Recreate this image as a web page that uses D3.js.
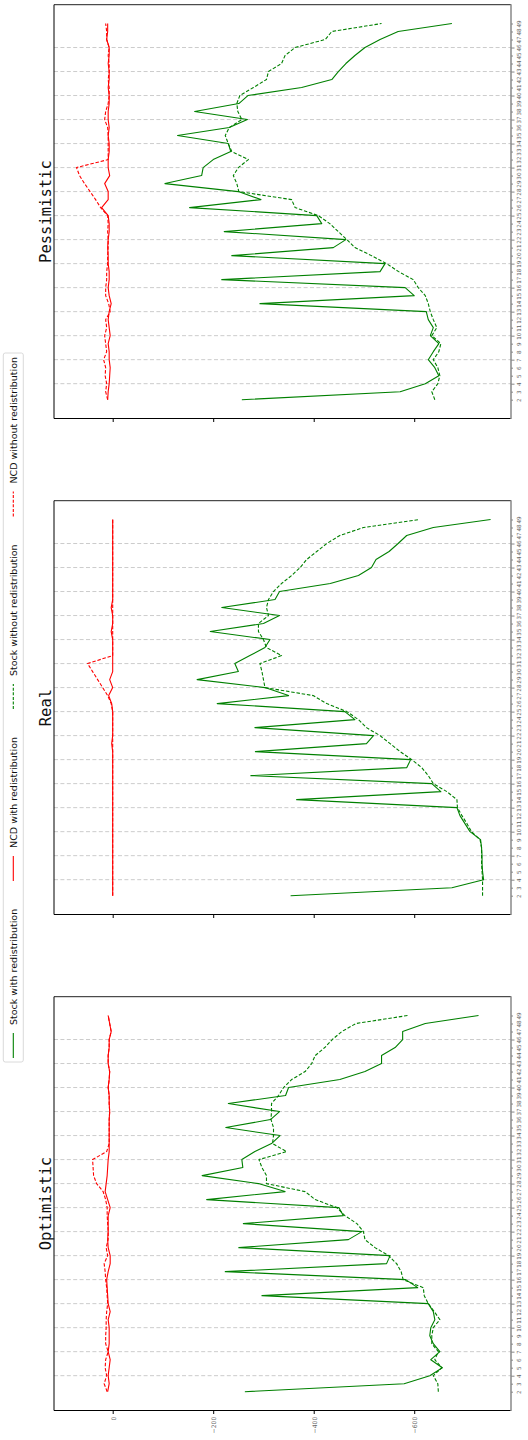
<!DOCTYPE html>
<html><head><meta charset="utf-8">
<script src="https://cdn.jsdelivr.net/npm/d3@7"></script>
<style>body{margin:0;background:#fff}svg{display:block}</style>
</head><body>
<svg id="c" width="528" height="1440"></svg>
<script>
// ---------- DATA ----------
const days = d3.range(2, 50);                 // time steps 2..49
const gridDays = d3.range(4, 47, 3);          // major ticks / gridlines
const valueTicks = [0, -200, -400, -600];
const scenarios = ["Pessimistic", "Real", "Optimistic"];
const seriesNames = ["Stock with redistribution", "NCD with redistribution",
                     "Stock without redistribution", "NCD without redistribution"];

const optStockWith = [-263,-580,-631,-656,-633,-651,-638,-631,-633,-641,-638,-628,-297,-607,-583,-224,-545,-552,-251,-469,-496,-260,-459,-450,-187,-343,-290,-178,-259,-257,-283,-316,-333,-225,-314,-332,-230,-344,-350,-452,-502,-535,-535,-562,-577,-577,-622,-728];
const optStockWithout = [-648,-647,-638,-655,-641,-648,-635,-635,-638,-651,-640,-628,-620,-618,-578,-574,-565,-549,-522,-502,-499,-486,-462,-446,-403,-383,-306,-306,-297,-291,-346,-318,-320,-320,-315,-316,-316,-330,-340,-356,-383,-396,-403,-422,-437,-456,-484,-587];
const optNcdWith = [10,7,9,7,5,9,7,7,7,9,5,9,10,11,12,9,5,5,9,10,9,9,9,5,10,15,13,11,10,9,7,7,7,7,7,6,7,7,9,7,6,9,9,7,7,3,6,9];
const optNcdWithout = [11,17,12,15,14,9,14,14,13,13,12,10,11,12,14,15,17,10,13,9,9,10,11,11,14,19,32,38,39,40,12,7,7,7,7,6,7,7,9,7,6,9,9,7,7,3,6,9];

const realStockWith = [-354,-675,-738,-736,-735,-735,-734,-732,-711,-701,-691,-685,-366,-653,-635,-275,-585,-593,-284,-505,-519,-283,-482,-462,-208,-350,-303,-168,-250,-243,-273,-303,-313,-194,-300,-332,-217,-323,-332,-433,-489,-515,-524,-550,-568,-585,-638,-752];
const realStockWithout = [-736,-736,-736,-735,-734,-734,-734,-731,-714,-705,-695,-686,-685,-665,-638,-628,-615,-595,-572,-552,-532,-505,-489,-466,-426,-399,-303,-300,-297,-293,-336,-306,-300,-290,-290,-310,-306,-310,-320,-336,-356,-373,-386,-406,-426,-452,-499,-610];
const realNcdWith = [0,0,0,0,0,0,0,0,0,0,0,0,0,0,0,0,0,0,0,2,0,0,0,0,2,8,0,6,0,0,0,0,0,3,0,0,3,0,0,0,0,0,0,0,0,0,0,0];
const realNcdWithout = [0,0,0,0,0,0,0,0,0,0,0,0,0,0,0,0,0,0,0,0,0,0,0,0,3,10,20,30,40,50,0,0,0,0,0,0,0,0,0,0,0,0,0,0,0,0,0,0];

const pesStockWith = [-257,-572,-622,-649,-641,-628,-638,-649,-632,-638,-628,-624,-293,-600,-582,-217,-532,-542,-237,-439,-464,-222,-416,-406,-153,-295,-250,-104,-177,-180,-200,-235,-230,-129,-232,-268,-163,-251,-269,-376,-436,-449,-464,-482,-502,-532,-568,-675];
const pesStockWithout = [-641,-635,-647,-651,-647,-638,-649,-653,-635,-645,-638,-632,-628,-622,-608,-598,-569,-545,-515,-482,-466,-449,-432,-409,-363,-356,-251,-247,-240,-250,-270,-237,-230,-224,-232,-257,-249,-247,-253,-280,-306,-310,-336,-343,-363,-423,-436,-535];
const pesNcdWith = [10,9,7,6,5,7,7,9,5,7,9,7,3,7,9,7,7,9,9,10,9,7,7,9,22,9,9,16,6,9,9,7,7,9,7,9,9,7,7,9,7,7,9,7,7,12,10,10];
const pesNcdWithout = [10,14,12,15,14,18,12,14,16,12,14,5,8,14,14,12,12,10,10,9,9,10,9,10,24,34,45,56,66,72,9,9,9,9,10,16,14,9,7,7,9,7,7,9,7,12,12,14];

// ---------- LAYOUT ----------
const svg = d3.select("#c");
const X0 = 54, X1 = 511, PH = 413.8;
const tops = [4.7, 500.7, 996.7];
const xV = d3.scaleLinear().domain([116.8, -792.6]).range([X0, X1]);
const styles = [
  {color:"#008000", dash:null},
  {color:"#ff0000", dash:null},
  {color:"#008000", dash:"3.5,1.8"},
  {color:"#ff0000", dash:"3.5,1.8"}
];
const panelData = [
  [pesStockWith, pesNcdWith, pesStockWithout, pesNcdWithout],
  [realStockWith, realNcdWith, realStockWithout, realNcdWithout],
  [optStockWith, optNcdWith, optStockWithout, optNcdWithout]
];
const fmtV = d => d < 0 ? "\u2212" + Math.abs(d) : String(d);

scenarios.forEach((name, i) => {
  const top = tops[i], bottom = top + PH;
  const yT = d3.scaleLinear().domain([-0.35, 51.35]).range([bottom, top]);
  const g = svg.append("g");

  // gridlines
  g.selectAll("line.grid").data(gridDays).join("line")
    .attr("class","grid")
    .attr("x1", X0).attr("x2", X1)
    .attr("y1", d => yT(d)).attr("y2", d => yT(d))
    .attr("stroke", "#cccccc").attr("stroke-width", 1)
    .attr("stroke-dasharray", "4,2.4");

  // series (draw stock first, then NCD)
  const order = [2, 0, 3, 1];
  order.forEach(k => {
    const vals = panelData[i][k];
    const line = d3.line().x(d => xV(d)).y((d, j) => yT(days[j]));
    g.append("path").attr("d", line(vals))
      .attr("fill","none").attr("stroke", styles[k].color)
      .attr("stroke-width", 1.1)
      .attr("stroke-dasharray", styles[k].dash)
      .attr("stroke-linejoin","round");
  });

  // frame
  g.append("line").attr("x1",X0).attr("x2",X1).attr("y1",top).attr("y2",top).attr("stroke","#222").attr("stroke-width",1);
  g.append("line").attr("x1",X0).attr("x2",X1).attr("y1",bottom).attr("y2",bottom).attr("stroke","#000").attr("stroke-width",1);
  g.append("line").attr("x1",X0).attr("x2",X0).attr("y1",top).attr("y2",bottom).attr("stroke","#000").attr("stroke-width",1);
  g.append("line").attr("x1",X1).attr("x2",X1).attr("y1",top-0.5).attr("y2",bottom+0.5).attr("stroke","#888").attr("stroke-width",1.5);

  // time axis (right side)
  const ax = g.append("g").attr("transform", `translate(${X1},0)`)
    .call(d3.axisRight(yT).tickValues(days).tickSize(2).tickFormat(d3.format("d")));
  ax.select(".domain").remove();
  ax.attr("font-family", "DejaVu Sans").attr("font-size", 5.6);
  ax.selectAll(".tick line").attr("x2", d => gridDays.includes(d) ? 3.5 : 2).attr("stroke", "#888");
  ax.selectAll(".tick text").attr("x", 0).attr("dy", 0).attr("y", 0)
    .attr("fill", "#666")
    .attr("transform", "translate(4.8,0) rotate(-90)")
    .attr("text-anchor", "middle").attr("dominant-baseline", "text-before-edge");

  // value axis (bottom)
  const bx = g.append("g").attr("transform", `translate(0,${bottom})`)
    .call(d3.axisBottom(xV).tickValues(valueTicks).tickSize(3.5).tickFormat(fmtV));
  bx.select(".domain").remove();
  bx.attr("font-family", "DejaVu Sans").attr("font-size", 6.2);
  bx.selectAll(".tick line").attr("stroke", "#000");
  if (i === 2) {
    bx.selectAll(".tick text").attr("x", 0).attr("y", 0).attr("dy", 0)
      .attr("fill", "#666")
      .attr("transform", "translate(0,6) rotate(-90)")
      .attr("text-anchor", "end").attr("dominant-baseline", "central");
  } else {
    bx.selectAll(".tick text").remove();
  }

  // title
  svg.append("text")
    .attr("transform", `translate(46,${top + PH/2}) rotate(-90)`)
    .attr("text-anchor", "middle").attr("dominant-baseline", "central")
    .attr("font-family", "DejaVu Sans Mono").attr("font-size", 15.5)
    .attr("fill", "#111").text(name);
});

// ---------- LEGEND ----------
const lg = svg.append("g");
const LTOP = 353, LBOT = 1062, LX = 3.3, LW = 20, LC = LX + LW/2;
lg.append("rect").attr("x", LX).attr("y", LTOP).attr("width", LW).attr("height", LBOT - LTOP)
  .attr("rx", 2).attr("fill", "#fff").attr("stroke", "#d0d0d0").attr("stroke-width", 0.8);
const texts = seriesNames.map(s => lg.append("text")
  .attr("font-family", "DejaVu Sans").attr("font-size", 9.5).attr("fill", "#111")
  .attr("dominant-baseline", "central").attr("text-anchor", "start").text(s));
const widths = texts.map(t => t.node().getComputedTextLength());
const HL = 25, HP = 8, PAD = 4;
const gap = ((LBOT - LTOP) - 2*PAD - d3.sum(widths) - 4*(HL+HP)) / 3;
let cur = LBOT - PAD;
seriesNames.forEach((s, k) => {
  lg.append("line").attr("x1", LC).attr("x2", LC).attr("y1", cur).attr("y2", cur - HL)
    .attr("stroke", styles[k].color).attr("stroke-width", 1.1)
    .attr("stroke-dasharray", styles[k].dash ? "3,1.6" : null);
  cur -= HL + HP;
  texts[k].attr("transform", `translate(${LC},${cur}) rotate(-90)`);
  cur -= widths[k] + gap;
});
</script>
</body></html>
